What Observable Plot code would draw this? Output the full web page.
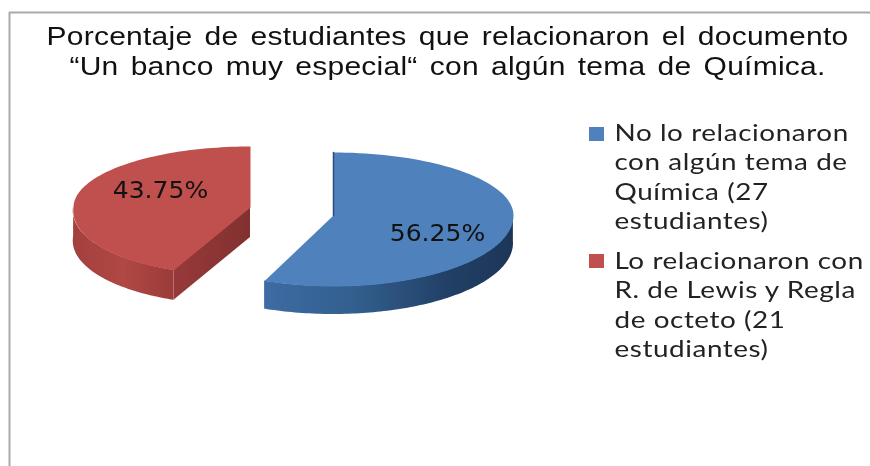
<!DOCTYPE html>
<html><head><meta charset="utf-8">
<script src="https://cdn.jsdelivr.net/npm/d3@7"></script>
<script src="https://cdn.jsdelivr.net/npm/@observablehq/plot@0.6"></script>
<style>html,body{margin:0;padding:0;background:#fff;overflow:hidden}svg{display:block}
.title-text{letter-spacing:0.2px;word-spacing:3px}
.legend-text{letter-spacing:0.5px}
</style>
</head><body><div id="chart"></div>
<script>
const categories = ["No lo relacionaron", "Lo relacionaron"];
const students = [27, 21];
const percentLabels = ["56.25%", "43.75%"];
const titleLines = ["Porcentaje de estudiantes que relacionaron el documento", "“Un banco muy especial“ con algún tema de Química."];
const legendLines = [
  ["No lo relacionaron", "con algún tema de", "Química (27", "estudiantes)"],
  ["Lo relacionaron con", "R. de Lewis y Regla", "de octeto (21", "estudiantes)"]
];
const colors = ["#4f81bd", "#c0504d"];

const total = d3.sum(students);
const sweep = students[0] / total * 360;
const rad = d => d * Math.PI / 180;
// Tilted-ellipse geometry of each exploded slice
const geo = [
  {cx: 333, cy: 215, rx: 180, ryTop: 63, ryBottom: 71, shear: 0, depth: 28, from: 0, to: sweep},
  {cx: 250, cy: 207, rx: 177, ryTop: 61, ryBottom: 68, shear: -0.14, depth: 30, from: sweep, to: 360}
];
function rim(g, deg) {
  const c = Math.cos(rad(deg)), s = Math.sin(rad(deg));
  const dy = -c * (c > 0 ? g.ryTop : g.ryBottom);
  return {x: g.cx + g.rx * s + g.shear * Math.max(0, dy), y: g.cy + dy};
}
const arc = (g, a, b) => d3.range(0, 101).map(i => rim(g, a + (b - a) * i / 100));
const apex = g => ({x: g.cx, y: g.cy});
const drop = g => p => ({...p, y2: p.y + g.depth});

const blue = geo[0], red = geo[1];
const blueFace = [apex(blue), ...arc(blue, blue.from, blue.to)];
const redFace = [apex(red), ...arc(red, red.from, red.to)];
const blueWall = arc(blue, 88, blue.to).map(drop(blue));
const redWall = arc(red, red.from, 272).map(drop(red));
const redCut = [rim(red, red.from), apex(red)].map(drop(red));
const blueSliver = [rim(blue, 0), apex(blue)];

const legendRows = legendLines.flatMap((ls, i) => ls.map((t, j) => ({t, y: [133, 261][i] + j * 29.3})));
const swatches = categories.map((c, i) => ({c, y1: [127, 254][i], y2: [141, 268][i], fill: colors[i]}));
const titleRows = titleLines.map((t, i) => ({t, y: 36 + i * 30}));

const defs = () => {
  const d = d3.create("svg:defs");
  const grad = (id, stops) => {
    const g = d.append("linearGradient").attr("id", id).attr("x1", 0).attr("x2", 1).attr("y1", 0).attr("y2", 0);
    stops.forEach(([o, c]) => g.append("stop").attr("offset", o).attr("stop-color", c));
  };
  grad("blueWall", [[0, "#3d6ba3"], [0.35, "#33608f"], [0.75, "#213f65"], [1, "#1d3658"]]);
  grad("redWall", [[0, "#a2403d"], [0.5, "#b04845"], [1, "#9a3c39"]]);
  grad("redCut", [[0, "#97393a"], [1, "#823130"]]);
  return d.node();
};

// The reference's type is horizontally stretched: widen each text about its anchor
const stretched = (k, cls) => (index, scales, values, dims, ctx, next) => {
  const g = next(index, scales, values, dims, ctx);
  if (cls) g.classList.add(cls);
  g.querySelectorAll("text").forEach(t => t.setAttribute("transform", `${t.getAttribute("transform") || ""} scale(${k},1)`));
  return g;
};

const plot = Plot.plot({
  width: 870, height: 466, margin: 0,
  x: {domain: [0, 870], range: [0, 870], axis: null},
  y: {domain: [0, 466], range: [0, 466], axis: null},
  style: {background: "#fff", filter: "blur(0.5px)"},
  marks: [
    defs,
    Plot.ruleX([9], {y1: 12, y2: 466, stroke: "#a9a9a9", strokeWidth: 2}),
    Plot.ruleY([12], {x1: 9, x2: 870, stroke: "#a9a9a9", strokeWidth: 2}),
    Plot.text(titleRows, {x: 447, y: "y", text: "t", fontFamily: "Liberation Sans", fontSize: 25, fill: "#111", render: stretched(1.2, "title-text")}),
    // walls
    Plot.areaY(blueWall, {x: "x", y1: "y", y2: "y2", fill: "url(#blueWall)"}),
    Plot.areaY(redCut, {x: "x", y1: "y", y2: "y2", fill: "url(#redCut)"}),
    Plot.areaY(redWall, {x: "x", y1: "y", y2: "y2", fill: "url(#redWall)"}),
    // top faces
    Plot.line(blueFace, {x: "x", y: "y", fill: colors[0], stroke: "none", curve: "linear-closed"}),
    Plot.line(redFace, {x: "x", y: "y", fill: colors[1], stroke: "none", curve: "linear-closed"}),
    Plot.line(blueSliver, {x: "x", y: "y", stroke: "#2b4c75", strokeWidth: 1.5}),
    // value labels
    Plot.text([0, 1], {x: i => [437, 160][i], y: i => [233, 190][i], text: i => percentLabels[i], fontFamily: "DejaVu Sans", fontSize: 23, fill: "#111", render: stretched(1.09)}),
    // legend
    Plot.rect(swatches, {x1: 589, x2: 604, y1: "y1", y2: "y2", fill: "fill"}),
    Plot.text(legendRows, {x: 614, y: "y", text: "t", textAnchor: "start", fontFamily: "Lato", fontSize: 24, fill: "#222", render: stretched(1.16, "legend-text")})
  ]
});
document.getElementById("chart").append(plot);
</script></body></html>
